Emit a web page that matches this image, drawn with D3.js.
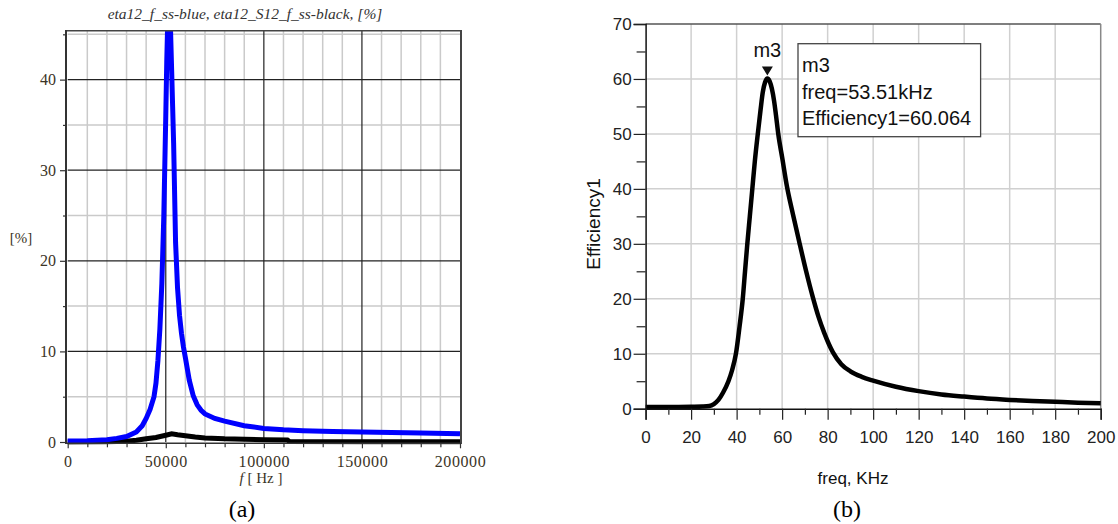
<!DOCTYPE html>
<html><head><meta charset="utf-8">
<script src="https://cdn.jsdelivr.net/npm/d3@7"></script>
<style>
html,body{margin:0;padding:0;background:#fff;}
svg{display:block;}
</style></head>
<body>
<svg id="chart" width="1118" height="524"></svg>
<script>
// ---------- Data: panel (a) ----------
const freqA = [0,10000,20000,25000,30000,35000,38000,40000,42000,44000,45000,46000,47000,48000,49000,50000,50500,51000,51500,52300,53000,53500,54000,55000,56000,57000,58000,59000,60000,62000,64000,66000,68000,70000,75000,80000,90000,100000,110000,120000,135000,150000,165000,180000,200000];
const blueA  = [0.1,0.15,0.25,0.4,0.6,1.1,1.8,2.6,3.6,5.0,6.5,9.0,12.5,17.5,25,36,42,46.5,47,46.5,41,37,33,22,17,14,12,10.5,9.3,6.8,5.1,4.1,3.5,3.1,2.6,2.3,1.8,1.5,1.35,1.25,1.15,1.1,1.05,1.0,0.9];
const freqA2 = [0,20000,30000,35000,40000,45000,50000,53000,56000,60000,65000,70000,80000,90000,100000,112000,113000,150000,200000];
const blackA = [0,0.02,0.08,0.2,0.35,0.5,0.75,0.9,0.8,0.7,0.55,0.45,0.35,0.3,0.25,0.22,0.05,0.04,0.03];
const xTicksA = [0,50000,100000,150000,200000];
const yTicksA = [0,10,20,30,40];

// ---------- Data: panel (b) ----------
const freqB = [0,10,20,25,28,30,32,34,36.4,38,39.7,41.3,42.7,43.7,44.7,45.8,46.9,48,49.3,50.5,51.5,52.5,53.51,54.5,55.5,56.5,57.3,58.3,60.1,62.05,64.8,67.55,70.5,73.48,76,78.5,82.27,86,90,95,100,110,120,130,140,150,160,170,180,190,200];
const effB  = [0.3,0.3,0.35,0.4,0.5,0.85,1.6,2.9,5.0,7.0,10,15,20,25,30,35,40,45,50,54.3,57.6,59.4,60.064,59.6,58.2,55.9,53.4,50,45.5,40.6,35.3,30.3,25.1,20.3,16.7,13.8,10.3,8.1,6.8,5.8,5.1,4.0,3.2,2.6,2.2,1.85,1.6,1.4,1.25,1.1,1.0];
const xTicksB = [0,20,40,60,80,100,120,140,160,180,200];
const yTicksB = [0,10,20,30,40,50,60,70];
const marker = {name:"m3", freq:53.51, value:60.064};

const svg = d3.select("#chart");
svg.append("rect").attr("width",1118).attr("height",524).attr("fill","#fff");

// ================= Panel (a) =================
const xA = d3.scaleLinear().domain([0,200000]).range([67.7,460]);
const yA = d3.scaleLinear().domain([0,45.4]).range([442,30.7]);
const gA = svg.append("g");
const serif = "'Liberation Serif','Times New Roman',serif";
const labCol = "#3b3426";

const minorX = d3.range(10000,200000,10000).filter(v=>v%50000!==0);
const minorY = [5,15,25,35,45];
gA.selectAll(".mgx").data(minorX).enter().append("line")
  .attr("x1",d=>xA(d)).attr("x2",d=>xA(d)).attr("y1",yA(45.4)).attr("y2",yA(0))
  .attr("stroke","#cacaca").attr("stroke-width",1.5);
gA.selectAll(".mgy").data(minorY).enter().append("line")
  .attr("x1",xA(0)).attr("x2",xA(200000)).attr("y1",d=>yA(d)).attr("y2",d=>yA(d))
  .attr("stroke","#cacaca").attr("stroke-width",1.5);
gA.selectAll(".Mgx").data([50000,100000,150000]).enter().append("line")
  .attr("x1",d=>xA(d)).attr("x2",d=>xA(d)).attr("y1",yA(45.4)).attr("y2",yA(0))
  .attr("stroke","#222").attr("stroke-width",1.2);
gA.selectAll(".Mgy").data([10,20,30,40]).enter().append("line")
  .attr("x1",xA(0)).attr("x2",xA(200000)).attr("y1",d=>yA(d)).attr("y2",d=>yA(d))
  .attr("stroke","#222").attr("stroke-width",1.2);

svg.append("clipPath").attr("id","clipA").append("rect")
  .attr("x",66).attr("y",30.7).attr("width",395).attr("height",414);

const lineA = d3.line().x(d=>xA(d[0])).y(d=>yA(d[1]));
gA.append("path").datum(freqA2.map((f,i)=>[f,blackA[i]]))
  .attr("d",lineA).attr("fill","none").attr("stroke","#000").attr("stroke-width",5)
  .attr("clip-path","url(#clipA)");
gA.append("path").datum(freqA.map((f,i)=>[f,blueA[i]]))
  .attr("d",lineA).attr("fill","none").attr("stroke","#0000ff").attr("stroke-width",5)
  .attr("stroke-linejoin","miter").attr("clip-path","url(#clipA)");

gA.append("line").attr("x1",66).attr("x2",461).attr("y1",30.7).attr("y2",30.7).attr("stroke","#444").attr("stroke-width",1.5);
gA.append("line").attr("x1",461).attr("x2",461).attr("y1",30).attr("y2",444).attr("stroke","#444").attr("stroke-width",2);
gA.append("line").attr("x1",66).attr("x2",66).attr("y1",30).attr("y2",444).attr("stroke","#333").attr("stroke-width",2);
gA.append("line").attr("x1",66).attr("x2",461).attr("y1",443.3).attr("y2",443.3).attr("stroke","#333").attr("stroke-width",1.5);

const axYA = gA.append("g").attr("transform","translate(66,0)")
  .call(d3.axisLeft(yA).tickValues(yTicksA).tickSize(6).tickPadding(4).tickFormat(d3.format("d")));
const axYAm = gA.append("g").attr("transform","translate(66,0)")
  .call(d3.axisLeft(yA).tickValues(minorY).tickSize(3).tickFormat(""));
const axXA = gA.append("g").attr("transform","translate(0,443.3)")
  .call(d3.axisBottom(xA).tickValues(xTicksA).tickSize(5).tickPadding(7).tickFormat(d3.format("d")));
const axXAm = gA.append("g").attr("transform","translate(0,443.3)")
  .call(d3.axisBottom(xA).tickValues(minorX).tickSize(4).tickFormat(""));
[axYA,axYAm,axXA,axXAm].forEach(a=>{
  a.select(".domain").remove();
  a.selectAll("line").attr("stroke","#333").attr("stroke-width",1.2);
  a.selectAll("text").attr("font-family",serif).attr("font-size",16).attr("fill",labCol);
});
axXA.selectAll("text").attr("letter-spacing",0.6);

gA.append("text").attr("x",245).attr("y",19).attr("text-anchor","middle")
  .attr("font-family",serif).attr("font-style","italic").attr("font-size",15.5).attr("fill","#333")
  .text("eta12_f_ss-blue, eta12_S12_f_ss-black, [%]");
gA.append("text").attr("x",21).attr("y",243).attr("text-anchor","middle")
  .attr("font-family",serif).attr("font-size",15).attr("fill",labCol).text("[%]");
const xl = gA.append("text").attr("x",261).attr("y",483).attr("text-anchor","middle")
  .attr("font-family",serif).attr("font-size",15).attr("fill",labCol);
xl.append("tspan").attr("font-style","italic").text("f");
xl.append("tspan").text(" [ Hz ]");
gA.append("text").attr("x",242).attr("y",517).attr("text-anchor","middle")
  .attr("font-family",serif).attr("font-size",24).attr("fill","#000").text("(a)");

// ================= Panel (b) =================
const xB = d3.scaleLinear().domain([0,200]).range([645.6,1100.7]);
const yB = d3.scaleLinear().domain([0,70]).range([408.7,24]);
const gB = svg.append("g");
const sans = "'Liberation Sans',Arial,sans-serif";
const narrow = "'Liberation Sans Narrow','Arial Narrow','Liberation Sans',sans-serif";

gB.selectAll(".gx").data(xTicksB.slice(1,-1)).enter().append("line")
  .attr("x1",d=>xB(d)).attr("x2",d=>xB(d)).attr("y1",yB(70)).attr("y2",yB(0))
  .attr("stroke","#d0d0d0").attr("stroke-width",1.5);
gB.selectAll(".gy").data(yTicksB.slice(1,-1)).enter().append("line")
  .attr("x1",xB(0)).attr("x2",xB(200)).attr("y1",d=>yB(d)).attr("y2",d=>yB(d))
  .attr("stroke","#d0d0d0").attr("stroke-width",1.5);
gB.append("line").attr("x1",xB(0)).attr("x2",xB(200)).attr("y1",yB(70)).attr("y2",yB(70)).attr("stroke","#555").attr("stroke-width",1.5);
gB.append("line").attr("x1",xB(200)).attr("x2",xB(200)).attr("y1",yB(70)).attr("y2",yB(0)).attr("stroke","#888").attr("stroke-width",1.5);

const lineB = d3.line().x(d=>xB(d[0])).y(d=>yB(d[1])).curve(d3.curveMonotoneX);
gB.append("path").datum(freqB.map((f,i)=>[f,effB[i]]))
  .attr("d",lineB).attr("fill","none").attr("stroke","#000").attr("stroke-width",4.5)
  .attr("stroke-linejoin","round");

const axYB = gB.append("g").attr("transform",`translate(${xB(0)},0)`)
  .call(d3.axisLeft(yB).tickValues(yTicksB).tickSize(12).tickPadding(2).tickFormat(d3.format("d")));
const axYBm = gB.append("g").attr("transform",`translate(${xB(0)},0)`)
  .call(d3.axisLeft(yB).tickValues([5,15,25,35,45,55,65]).tickSize(9).tickFormat(""));
const axXB = gB.append("g").attr("transform",`translate(0,${yB(0)})`)
  .call(d3.axisBottom(xB).tickValues(xTicksB).tickSize(11).tickPadding(11).tickFormat(d3.format("d")));
const axXBm = gB.append("g").attr("transform",`translate(0,${yB(0)})`)
  .call(d3.axisBottom(xB).tickValues(d3.range(10,200,20)).tickSize(6).tickFormat(""));
[axYB,axYBm,axXB,axXBm].forEach(a=>{
  a.selectAll("line").attr("stroke","#222").attr("stroke-width",1.2);
  a.select(".domain").attr("stroke","#111").attr("stroke-width",1.5);
  a.selectAll("text").attr("font-family",narrow).attr("font-size",17).attr("fill","#222");
});
axYBm.select(".domain").remove(); axXBm.select(".domain").remove();

const mx = xB(marker.freq), my = yB(marker.value);
gB.append("path").attr("d",`M${mx-5.5},${my-12} L${mx+5.5},${my-12} L${mx},${my-3} Z`).attr("fill","#111");
gB.append("text").attr("x",mx).attr("y",57).attr("text-anchor","middle")
  .attr("font-family",sans).attr("font-size",20).attr("fill","#111").text(marker.name);
gB.append("rect").attr("x",798).attr("y",43.7).attr("width",182.6).attr("height",93)
  .attr("fill","#fff").attr("stroke","#444").attr("stroke-width",1.3);
const lines = [marker.name, `freq=${marker.freq}kHz`, `Efficiency1=${marker.value.toFixed(3)}`];
gB.selectAll(".bt").data(lines).enter().append("text")
  .attr("x",802).attr("y",(d,i)=>72+i*26.7)
  .attr("font-family",sans).attr("font-size",20).attr("fill","#111").text(d=>d);

gB.append("text").attr("transform","translate(600,224) rotate(-90)").attr("text-anchor","middle")
  .attr("font-family",sans).attr("font-size",19).attr("fill","#111").text("Efficiency1");
gB.append("text").attr("x",853).attr("y",484).attr("text-anchor","middle")
  .attr("font-family",sans).attr("font-size",17).attr("fill","#111").text("freq, KHz");
gB.append("text").attr("x",847).attr("y",517).attr("text-anchor","middle")
  .attr("font-family",serif).attr("font-size",24).attr("fill","#000").text("(b)");
</script>
</body></html>
